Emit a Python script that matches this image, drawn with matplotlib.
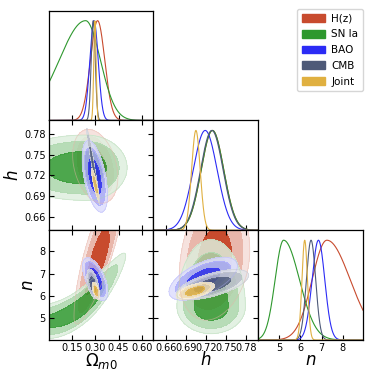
import numpy as np
import matplotlib
matplotlib.use("Agg")
import matplotlib.pyplot as plt
from matplotlib.patches import Patch
from matplotlib.colors import to_rgb

names = ["H(z)", "SN Ia", "BAO", "CMB", "Joint"]
colors = ["#C84B2E", "#2E982E", "#2B2BF5", "#4E5A78", "#E0B040"]

# 1D marginals: mode, sigma_left, sigma_right
om_1d = [[0.315, 0.046, 0.046], [0.238, 0.17, 0.095], [0.292, 0.027, 0.027],
         [0.287, 0.013, 0.013], [0.298, 0.0075, 0.0075]]
h_1d = [[0.730, 0.017, 0.017], [0.730, 0.017, 0.017], [0.719, 0.018, 0.018],
        [0.729, 0.017, 0.017], [0.705, 0.0065, 0.0065]]
n_1d = [[7.25, 0.7, 1.1], [5.2, 0.4, 0.75], [6.85, 0.3, 0.3],
        [6.5, 0.22, 0.22], [6.2, 0.13, 0.13]]

# 2D: x0, y0, sx_left, sx_right, sy_low, sy_high, slope, curvature
om_h_2d = [[0.300, 0.733, 0.048, 0.048, 0.0167, 0.0167, -0.109, 0.0],
           [0.238, 0.731, 0.17, 0.088, 0.0155, 0.0155, 0.0, 0.0],
           [0.297, 0.7185, 0.027, 0.027, 0.0147, 0.0147, -0.315, 0.0],
           [0.287, 0.733, 0.014, 0.014, 0.0036, 0.0036, -1.26, 0.0],
           [0.300, 0.707, 0.008, 0.008, 0.0033, 0.0033, -0.84, 0.0]]
om_n_2d = [[0.315, 7.4, 0.05, 0.05, 0.42, 0.75, 15.5, 0.0],
           [0.238, 5.65, 0.2, 0.085, 0.28, 0.28, 5.76, 10.0],
           [0.300, 6.75, 0.027, 0.027, 0.256, 0.256, -7.1, 0.0],
           [0.285, 6.52, 0.013, 0.013, 0.19, 0.19, -8.5, 0.0],
           [0.305, 6.22, 0.008, 0.008, 0.104, 0.104, -9.75, 0.0]]
h_n_2d = [[0.733, 7.4, 0.0175, 0.0175, 0.8, 1.1, 11.4, 0.0],
          [0.728, 5.5, 0.017, 0.017, 0.4, 1.0, 0.0, 0.0],
          [0.716, 6.77, 0.017, 0.017, 0.256, 0.256, 11.3, 0.0],
          [0.730, 6.5, 0.018, 0.018, 0.176, 0.176, 7.8, 0.0],
          [0.704, 6.22, 0.0095, 0.0095, 0.104, 0.104, 8.0, 0.0]]

levels_mass = [0.68, 0.95, 0.99]

om_ticks = [0.15, 0.30, 0.45, 0.60]
h_ticks = [0.66, 0.69, 0.72, 0.75, 0.78]
n_ticks = [5, 6, 7, 8]
om_lim = (0.0, 0.675)
h_lim = (0.641, 0.799)
n_lim = (4.0, 8.96)

params = [(r"$\Omega_{m0}$", om_lim, om_ticks, om_1d),
          (r"$h$", h_lim, h_ticks, h_1d),
          (r"$n$", n_lim, n_ticks, n_1d)]
pairs = {(1, 0): om_h_2d, (2, 0): om_n_2d, (2, 1): h_n_2d}


def split_gauss(x, m, sl, sr):
    s = np.where(x < m, sl, sr)
    return np.exp(-0.5 * ((x - m) / s) ** 2)


def dens2d(p):
    x0, y0, sxl, sxr, syl, syh, a, k = p
    xs = np.linspace(x0 - 5 * sxl, x0 + 5 * sxr, 500)
    c = y0 + a * (xs - x0) + k * (xs - x0) ** 2
    ys = np.linspace(c.min() - 5 * syl, c.max() + 5 * syh, 500)
    X, Y = np.meshgrid(xs, ys)
    dx = X - x0
    u = dx / np.where(dx < 0, sxl, sxr)
    r = Y - (y0 + a * dx + k * dx ** 2)
    v = r / np.where(r < 0, syl, syh)
    return X, Y, np.exp(-0.5 * (u ** 2 + v ** 2))


def mass_levels(P, masses):
    flat = np.sort(P.ravel())[::-1]
    cum = np.cumsum(flat)
    cum /= cum[-1]
    return [flat[min(np.searchsorted(cum, m), len(flat) - 1)] for m in masses]


def shades(c, n=3, pale=0.6):
    cols = [np.array(to_rgb(c))]
    for _ in range(n - 1):
        cols.insert(0, cols[0] * (1 - pale) + pale)
    return [tuple(cc) for cc in cols]


fig = plt.figure(figsize=(3.74, 3.75), dpi=100)
L, R, B, T = 0.1302, 0.9706, 0.0933, 0.9715
W = (R - L) / 3
H = (T - B) / 3

for i in range(3):
    for j in range(i + 1):
        ax = fig.add_axes([L + j * W, T - (i + 1) * H, W, H])
        xlab, xlim, xt, d1 = params[j]
        ax.set_xlim(*xlim)
        ax.set_xticks(xt)
        ax.tick_params(direction="in", length=3.5, width=0.8, labelsize=7, pad=2)
        if i == j:
            xx = np.linspace(xlim[0], xlim[1], 600)
            for k, c in enumerate(colors):
                ax.plot(xx, split_gauss(xx, *d1[k]), color=c, lw=0.8)
            ax.set_ylim(0, 1.1)
            ax.set_yticks([])
            ax.tick_params(top=False, right=False, left=False)
        else:
            ylab, ylim, yt, _ = params[i]
            data = pairs[(i, j)]
            for k, c in enumerate(colors):
                X, Y, P = dens2d(data[k])
                lv = mass_levels(P, levels_mass)
                lv = sorted(lv) + [P.max() * 1.01]
                cols = shades(c)
                alpha = 1.0 if k == 0 else 0.85
                ax.contourf(X, Y, P, lv, colors=cols, alpha=alpha)
                ax.contour(X, Y, P, lv[:1], colors=[cols[1]], linewidths=0.6,
                           alpha=alpha * 0.5)
            ax.set_ylim(*ylim)
            ax.set_yticks(yt)
            ax.tick_params(top=True, right=True)
            if j == 0:
                ax.set_ylabel(ylab, fontsize=12, labelpad=2)
            else:
                ax.tick_params(labelleft=False)
        if i == 2:
            ax.set_xlabel(xlab, fontsize=12, labelpad=-1)
        else:
            ax.tick_params(labelbottom=False)
        for s in ax.spines.values():
            s.set_linewidth(0.9)

handles = [Patch(facecolor=c, edgecolor=c, label=n) for c, n in zip(colors, names)]
fig.legend(handles=handles, loc="upper right", bbox_to_anchor=(0.984, 0.99),
           fontsize=7.5, handlelength=2.2, handleheight=0.8, labelspacing=0.55,
           borderpad=0.45, handletextpad=0.6, frameon=True)

fig.savefig("out.png", dpi=100)
